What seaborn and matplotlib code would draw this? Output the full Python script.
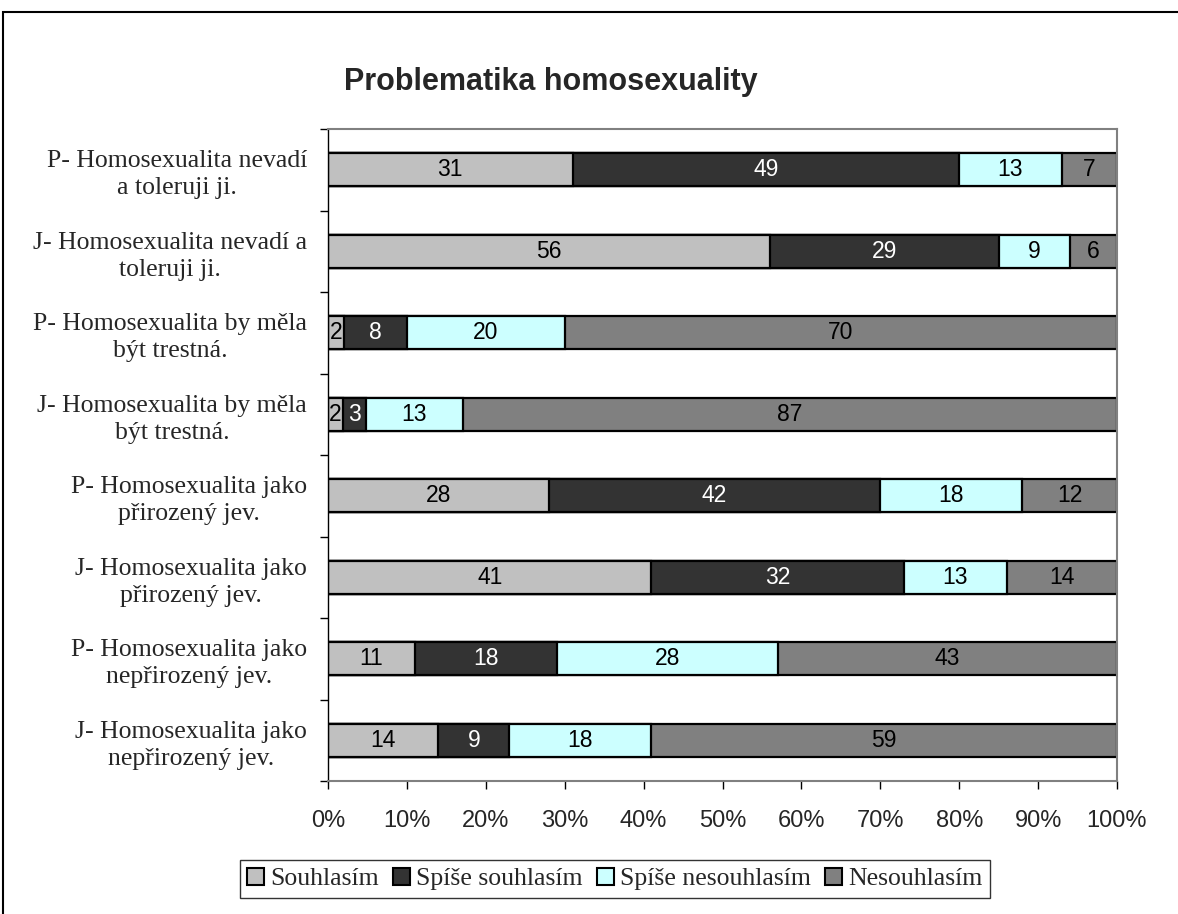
import numpy as np
import pandas as pd
import seaborn as sns
import matplotlib.pyplot as plt
from matplotlib.patches import Rectangle, Patch

# data
categories = [
    "P- Homosexualita nevadí\na toleruji ji.",
    "J- Homosexualita nevadí a\ntoleruji ji.",
    "P- Homosexualita by měla\nbýt trestná.",
    "J- Homosexualita by měla\nbýt trestná.",
    "P- Homosexualita jako\npřirozený jev.",
    "J- Homosexualita jako\npřirozený jev.",
    "P- Homosexualita jako\nnepřirozený jev.",
    "J- Homosexualita jako\nnepřirozený jev.",
]
series = ["Souhlasím", "Spíše souhlasím", "Spíše nesouhlasím", "Nesouhlasím"]
souhlasim = [31, 56, 2, 2, 28, 41, 11, 14]
spise_souhlasim = [49, 29, 8, 3, 42, 32, 18, 9]
spise_nesouhlasim = [13, 9, 20, 13, 18, 13, 28, 18]
nesouhlasim = [7, 6, 70, 87, 12, 14, 43, 59]
colors = ["#C0C0C0", "#333333", "#CCFFFF", "#808080"]
text_colors = ["black", "white", "black", "black"]

vals = np.array([souhlasim, spise_souhlasim, spise_nesouhlasim, nesouhlasim], dtype=float)
pct = vals / vals.sum(axis=0) * 100  # 100% stacked
cum = np.cumsum(pct, axis=0)

sns.set_theme(style="white")
plt.rcParams["font.family"] = ["Liberation Sans", "DejaVu Sans"]

fig = plt.figure(figsize=(11.78, 9.14), dpi=100)
ax = fig.add_axes([328 / 1178, 1 - 781 / 914, (1117 - 328) / 1178, (781 - 129) / 914])

# draw cumulative bars from the longest to the shortest
for i in range(3, -1, -1):
    df = pd.DataFrame({"cat": categories, "val": cum[i]})
    sns.barplot(data=df, x="val", y="cat", orient="h", color=colors[i],
                saturation=1, width=0.41, edgecolor="black", linewidth=1.6, ax=ax)

# value labels
for i in range(4):
    start = cum[i] - pct[i]
    for j in range(len(categories)):
        ax.text(start[j] + pct[i][j] / 2, j, f"{int(vals[i][j])}", ha="center", va="center",
                fontsize=16.5, color=text_colors[i])

ax.set_xlim(0, 100)
ax.set_ylim(7.5, -0.5)
ax.set_xticks(np.arange(0, 101, 10))
ax.set_xticklabels([f"{v}%" for v in range(0, 101, 10)], fontsize=17)
ax.set_xlabel("")
ax.set_ylabel("")
ax.set_yticks(range(len(categories)))
ax.set_yticklabels(categories, fontsize=18.5, family=["Liberation Serif", "DejaVu Serif"],
                   multialignment="center", linespacing=1.3)
ax.set_yticks(np.arange(-0.5, 8, 1), minor=True)
ax.tick_params(axis="y", which="major", length=0, pad=15)
ax.tick_params(axis="y", which="minor", length=6, width=1, color="black", direction="out", left=True)
ax.tick_params(axis="x", length=6, width=1, color="black", direction="out", bottom=True, pad=15)

for s in ["top", "right", "bottom"]:
    ax.spines[s].set_color("#808080")
    ax.spines[s].set_linewidth(1.5)
ax.spines["left"].set_color("black")
ax.spines["left"].set_linewidth(1)

fig.text(551 / 1178, 1 - 82 / 914, "Problematika homosexuality", ha="center", va="center",
         fontsize=22, fontweight="bold")

handles = [Patch(facecolor=c, edgecolor="black", linewidth=1.5) for c in colors]
fig.legend(handles, series, loc="center", bbox_to_anchor=(615 / 1178, 1 - 879 / 914), ncol=4,
           prop={"family": "Liberation Serif", "size": 18.5}, frameon=True, fancybox=False,
           edgecolor="black", handlelength=0.65, handleheight=0.65, handletextpad=0.25,
           columnspacing=0.55, borderpad=0.3)

fig.add_artist(Rectangle((3 / 1178, -0.1), 1.2, 1 - 12 / 914 + 0.1, transform=fig.transFigure,
                         fill=False, edgecolor="black", linewidth=1.5, clip_on=False))

fig.savefig("out.png", dpi=100)
